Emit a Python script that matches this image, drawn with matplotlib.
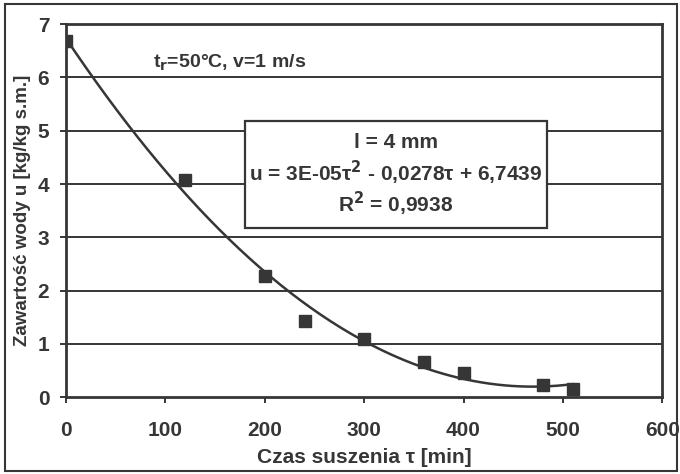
import numpy as np
import matplotlib.pyplot as plt
from matplotlib.patches import Rectangle

# drying time [min] and moisture content [kg/kg d.m.]
tau = [0, 120, 200, 240, 300, 360, 400, 480, 510]
u = [6.68, 4.08, 2.28, 1.43, 1.10, 0.66, 0.46, 0.22, 0.16]

x_ticks = [0, 100, 200, 300, 400, 500, 600]
y_ticks = [0, 1, 2, 3, 4, 5, 6, 7]

box_lines = ["l = 4 mm",
             "u = 3E-05τ$^2$ - 0,0278τ + 6,7439",
             "R$^2$ = 0,9938"]

plt.rcParams['font.family'] = ['Liberation Sans', 'DejaVu Sans']
plt.rcParams['font.weight'] = 'bold'
plt.rcParams['axes.labelweight'] = 'bold'
plt.rcParams['mathtext.default'] = 'bf'

ink = '#363636'

fig = plt.figure(figsize=(6.8, 4.74), dpi=100)
ax = fig.add_axes([0.097, 0.162, 0.877, 0.787])

# horizontal gridlines
for yv in y_ticks[1:]:
    ax.axhline(yv, color=ink, lw=1.4, zorder=1)

# second-order trendline fitted to the points
coef = np.polyfit(tau, u, 2)
tt = np.linspace(0, 510, 200)
ax.plot(tt, np.polyval(coef, tt), color=ink, lw=1.8, zorder=2)
ax.plot(tau, u, 's', color=ink, ms=9, zorder=3)

ax.set_xlim(0, 600)
ax.set_ylim(0, 7)
ax.set_xticks(x_ticks)
ax.set_yticks(y_ticks)
ax.tick_params(colors=ink, labelsize=15, width=1.4, length=4, direction='out')
ax.tick_params(axis='x', pad=13)
ax.tick_params(axis='y', pad=8)
plt.setp(ax.get_xticklabels() + ax.get_yticklabels(), fontweight='bold')
for s in ax.spines.values():
    s.set_color(ink)
    s.set_linewidth(2)

ax.set_xlabel("Czas suszenia τ [min]", fontsize=15, color=ink, labelpad=6)
ax.set_ylabel("Zawartość wody u [kg/kg s.m.]", fontsize=13.5, color=ink, labelpad=5)

ax.text(88, 6.27, "t$_r$=50°C, v=1 m/s", fontsize=14, color=ink, va='center')

# equation box
ax.add_patch(Rectangle((180, 3.18), 304, 2.01, facecolor='white',
                       edgecolor=ink, lw=1.6, zorder=4))
for i, line in enumerate(box_lines):
    ax.text(332, 4.78 - i * 0.575, line, fontsize=15, color=ink,
            ha='center', va='center', zorder=5)

# outer frame around the chart
fig.patches.append(Rectangle((0.007, 0.006), 0.988, 0.985, transform=fig.transFigure,
                             fill=False, edgecolor=ink, lw=1.5))

fig.savefig('out.png', dpi=100)
